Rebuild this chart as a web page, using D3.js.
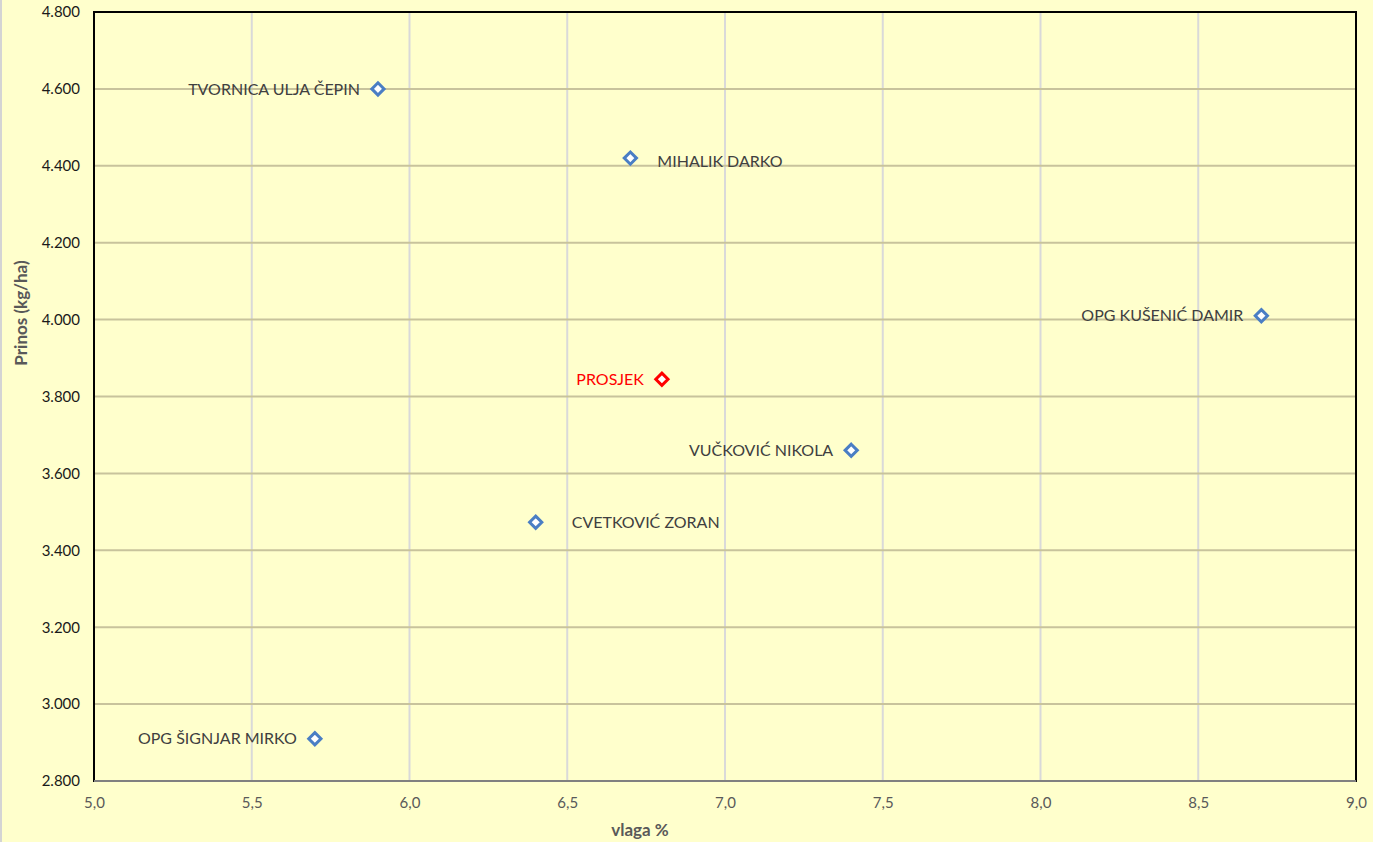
<!DOCTYPE html>
<meta charset="utf-8">
<head>
<title>Prinos / vlaga</title>
<script src="https://cdn.jsdelivr.net/npm/d3@7"></script>
<style>
body { margin:0; background:#FFFFCC; }
text { font-family: Lato, "Open Sans", sans-serif; }
</style>
</head>
<body>
<svg id=mySVG width=1373 height=842></svg>
<script>
// ---- data ----
var names=["TVORNICA ULJA ČEPIN","MIHALIK DARKO","OPG KUŠENIĆ DAMIR","PROSJEK","VUČKOVIĆ NIKOLA","CVETKOVIĆ ZORAN","OPG ŠIGNJAR MIRKO"]
var vlaga=[5.9,6.7,8.7,6.8,7.4,6.4,5.7]
var prinos=[4600,4420,4010,3845,3660,3473,2910]
var labelSide=["left","right","left","left","left","right","left"]
var xTicks=[5.0,5.5,6.0,6.5,7.0,7.5,8.0,8.5,9.0]
var yTicks=[2800,3000,3200,3400,3600,3800,4000,4200,4400,4600,4800]

var svg=d3.select("#mySVG")
var plotLeft=94, plotRight=1356, plotTop=12, plotBottom=781

svg.append("rect").attr("width",1373).attr("height",842).attr("fill","#FFFFCC")
svg.append("rect").attr("width",2).attr("height",842).attr("fill","#D4D4D4")

var x=d3.scaleLinear().domain([5,9]).range([plotLeft,plotRight])
var y=d3.scaleLinear().domain([2800,4800]).range([plotBottom,plotTop])

//---gridlines---
svg.append("g").selectAll("line").data(xTicks.slice(1,-1)).enter().append("line")
  .attr("x1",d=>x(d)).attr("x2",d=>x(d)).attr("y1",plotTop).attr("y2",plotBottom)
  .attr("stroke","#D9D9D9").attr("stroke-width",2)
svg.append("g").selectAll("line").data(yTicks.slice(1,-1)).enter().append("line")
  .attr("x1",plotLeft).attr("x2",plotRight).attr("y1",d=>y(d)).attr("y2",d=>y(d))
  .attr("stroke","#C8C39C").attr("stroke-width",2)

//---frame---
svg.append("rect").attr("x",plotLeft).attr("y",plotTop).attr("width",plotRight-plotLeft).attr("height",plotBottom-plotTop)
  .attr("fill","none").attr("stroke","#000").attr("stroke-width",2)
svg.append("line").attr("x1",plotLeft).attr("x2",plotRight).attr("y1",plotBottom).attr("y2",plotBottom)
  .attr("stroke","#808080").attr("stroke-width",2)

//---axes---
var yAxis=svg.append("g").attr("transform","translate("+plotLeft+",0)")
  .call(d3.axisLeft(y).tickValues(yTicks).tickSize(0).tickPadding(14)
    .tickFormat(d=>d3.format(".3f")(d/1000)))
yAxis.select(".domain").remove()
yAxis.selectAll("text").attr("font-size",15).attr("fill","#1A1A1A").style("font-family","Lato, sans-serif")

var xAxis=svg.append("g").attr("transform","translate(0,"+plotBottom+")")
  .call(d3.axisBottom(x).tickValues(xTicks).tickSize(0).tickPadding(16)
    .tickFormat(d=>d3.format(".1f")(d).replace(".",",")))
xAxis.select(".domain").remove()
xAxis.selectAll("text").attr("font-size",15).attr("fill","#595959").style("font-family","Lato, sans-serif")

//---axis titles---
svg.append("text").text("vlaga %").attr("x",640).attr("y",836)
  .attr("text-anchor","middle").attr("font-size",17).attr("font-weight","bold").attr("fill","#595959")
svg.append("text").text("Prinos (kg/ha)").attr("transform","translate(27,313) rotate(-90)")
  .attr("text-anchor","middle").attr("font-size",17).attr("font-weight","bold").attr("fill","#595959")

//---points---
var pts=names.map((n,i)=>({name:n,x:vlaga[i],y:prinos[i],side:labelSide[i]}))
var diamond=d3.symbol().type(d3.symbolDiamond2).size(95)
var g=svg.append("g")
g.selectAll("path").data(pts).enter().append("path")
  .attr("d",diamond)
  .attr("transform",d=>"translate("+x(d.x)+","+y(d.y)+")")
  .attr("fill","#FFFFFF")
  .attr("stroke",d=>d.name=="PROSJEK"?"#FF0000":"#4A7EC4")
  .attr("stroke-width",3)

g.selectAll("text").data(pts).enter().append("text")
  .text(d=>d.name)
  .attr("x",d=>d.side=="left"?x(d.x)-18:x(d.x)+(d.name=="MIHALIK DARKO"?27:36))
  .attr("y",d=>y(d.y)+(d.name=="MIHALIK DARKO"?3:0))
  .attr("dy","0.35em")
  .attr("text-anchor",d=>d.side=="left"?"end":"start")
  .attr("font-size",16)
  .attr("fill",d=>d.name=="PROSJEK"?"#FF0000":"#404040")
</script>
</body>
